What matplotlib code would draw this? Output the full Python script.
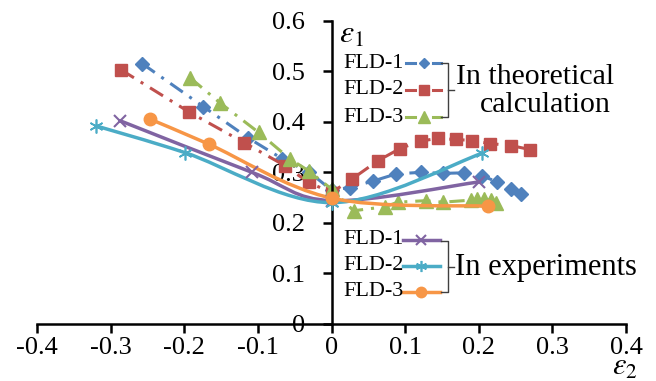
import matplotlib
matplotlib.use('Agg')
import matplotlib.pyplot as plt
from matplotlib.path import Path
from matplotlib.patches import PathPatch
from matplotlib.lines import Line2D

plt.rcParams['font.family'] = ['Liberation Serif', 'DejaVu Serif']
plt.rcParams['mathtext.fontset'] = 'stix'

# theoretical FLDs
t1_x = [-0.257, -0.174, -0.113, -0.067, -0.030, 0.0, 0.025, 0.057, 0.088, 0.121, 0.151, 0.180, 0.205, 0.225, 0.244, 0.258]
t1_y = [0.515, 0.430, 0.368, 0.327, 0.300, 0.265, 0.270, 0.283, 0.297, 0.300, 0.298, 0.299, 0.293, 0.281, 0.267, 0.257]
t2_x = [-0.286, -0.193, -0.119, -0.063, -0.031, 0.0, 0.028, 0.063, 0.093, 0.121, 0.144, 0.169, 0.191, 0.215, 0.244, 0.270]
t2_y = [0.503, 0.419, 0.359, 0.313, 0.280, 0.260, 0.287, 0.323, 0.347, 0.362, 0.367, 0.365, 0.363, 0.357, 0.353, 0.345]
t3_x = [-0.192, -0.151, -0.099, -0.056, -0.031, 0.0, 0.030, 0.073, 0.090, 0.128, 0.151, 0.189, 0.198, 0.207, 0.216, 0.223]
t3_y = [0.487, 0.437, 0.379, 0.326, 0.303, 0.267, 0.224, 0.232, 0.241, 0.244, 0.241, 0.245, 0.247, 0.247, 0.245, 0.240]

# experimental FLDs
e1_x = [-0.287, -0.108, 0.0, 0.200]
e1_y = [0.402, 0.300, 0.244, 0.281]
e2_x = [-0.320, -0.199, 0.0, 0.205]
e2_y = [0.392, 0.339, 0.240, 0.338]
e3_x = [-0.246, -0.167, 0.0, 0.213]
e3_y = [0.405, 0.356, 0.249, 0.233]

blue = '#4F81BD'
red = '#C0504D'
green = '#9BBB59'
purple = '#8064A2'
cyan = '#4BACC6'
orange = '#F79646'

fig = plt.figure(figsize=(6.56, 3.81), dpi=100)
ax = fig.add_axes([37 / 656, 57 / 381, 589 / 656, 303.3 / 381])
ax.set_xlim(-0.4, 0.4)
ax.set_ylim(0, 0.6)

dd = (5, 2.6, 1, 2.6)
ax.plot(t1_x, t1_y, color=blue, lw=2.2, dashes=dd, marker='D', ms=7.5)
ax.plot(t2_x, t2_y, color=red, lw=2.2, dashes=dd, marker='s', ms=8.5)
ax.plot(t3_x, t3_y, color=green, lw=2.2, dashes=dd, marker='^', ms=9.5)


def smooth(xs, ys, color):
    # excel-like smoothed line (catmull-rom as bezier)
    pts = list(zip(xs, ys))
    verts = [pts[0]]
    codes = [Path.MOVETO]
    n = len(pts)
    for i in range(n - 1):
        p0 = pts[i - 1] if i > 0 else pts[i]
        p1 = pts[i]
        p2 = pts[i + 1]
        p3 = pts[i + 2] if i + 2 < n else pts[i + 1]
        c1 = (p1[0] + (p2[0] - p0[0]) / 6, p1[1] + (p2[1] - p0[1]) / 6)
        c2 = (p2[0] - (p3[0] - p1[0]) / 6, p2[1] - (p3[1] - p1[1]) / 6)
        verts += [c1, c2, p2]
        codes += [Path.CURVE4] * 3
    ax.add_patch(PathPatch(Path(verts, codes), fill=False, edgecolor=color, lw=2.5, zorder=3))


smooth(e1_x, e1_y, purple)
smooth(e2_x, e2_y, cyan)
smooth(e3_x, e3_y, orange)
ax.plot(e1_x, e1_y, ls='none', marker='x', ms=9, mew=1.5, color=purple, zorder=4)
ax.plot(e2_x, e2_y, ls='none', marker=(6, 2, 0), ms=10, mew=1.2, color=cyan, zorder=4)
ax.plot(e3_x, e3_y, ls='none', marker='o', ms=9, color=orange, zorder=4)

# axes through origin
ax.spines['left'].set_position(('data', 0))
ax.spines['bottom'].set_position(('data', 0))
ax.spines['top'].set_visible(False)
ax.spines['right'].set_visible(False)
for s in ['left', 'bottom']:
    ax.spines[s].set_linewidth(1.8)
ax.set_xticks([-0.4, -0.3, -0.2, -0.1, 0, 0.1, 0.2, 0.3, 0.4])
ax.set_xticklabels(['-0.4', '-0.3', '-0.2', '-0.1', '0', '0.1', '0.2', '0.3', '0.4'])
ax.set_yticks([0, 0.1, 0.2, 0.3, 0.4, 0.5, 0.6])
ax.set_yticklabels(['0', '0.1', '0.2', '0.3', '0.4', '0.5', '0.6'])
ax.tick_params(direction='out', length=6.3, width=1.8, labelsize=19)
ax.tick_params(axis='x', pad=3)
ax.tick_params(axis='y', pad=13)
ax.patch.set_alpha(0)

ax.text(0.01, 0.571, r'$\varepsilon_1$', fontsize=23, va='center', ha='left')
ax.text(0.399, -0.085, r'$\varepsilon_2$', fontsize=22, va='center', ha='center')

# hand made legends (pixel positions)
W, H = 656, 381


def fx(x):
    return x / W


def fy(y):
    return 1 - y / H


def legend_row(y, label, color, marker, ms, dashed, mew=1.5):
    fig.text(fx(343), fy(y), label, fontsize=16, va='center', ha='left')
    if dashed:
        fig.add_artist(Line2D([fx(406), fx(415)], [fy(y), fy(y)], color=color, lw=2.2))
        fig.add_artist(Line2D([fx(433), fx(441)], [fy(y), fy(y)], color=color, lw=2.2))
        fig.add_artist(Line2D([fx(424)], [fy(y)], marker=marker, ms=ms, color=color, ls='none'))
    else:
        fig.add_artist(Line2D([fx(403), fx(440)], [fy(y), fy(y)], color=color, lw=2.5))
        fig.add_artist(Line2D([fx(421)], [fy(y)], marker=marker, ms=ms, mew=mew, color=color, ls='none'))


def bracket(y0, y1, x0=441, x1=448):
    ym = (y0 + y1) / 2
    fig.add_artist(Line2D([fx(x0), fx(x1), fx(x1), fx(x0)], [fy(y0), fy(y0), fy(y1), fy(y1)],
                          color='#404040', lw=1))
    fig.add_artist(Line2D([fx(x1), fx(x1 + 6)], [fy(ym), fy(ym)], color='#404040', lw=1))


legend_row(63, 'FLD-1', blue, 'D', 5.5, True)
legend_row(90, 'FLD-2', red, 's', 6.5, True)
legend_row(117, 'FLD-3', green, '^', 8, True)
bracket(63, 117)
fig.text(fx(456), fy(77), 'In theoretical', fontsize=21.5, va='center', ha='left')
fig.text(fx(545), fy(105), 'calculation', fontsize=21.5, va='center', ha='center')

legend_row(240, 'FLD-1', purple, 'x', 7, False)
legend_row(266, 'FLD-2', cyan, (6, 2, 0), 8, False, mew=1.2)
legend_row(292, 'FLD-3', orange, 'o', 7, False)
bracket(241, 292)
fig.text(fx(455), fy(267), 'In experiments', fontsize=22, va='center', ha='left')

fig.savefig('out.png', dpi=100)
